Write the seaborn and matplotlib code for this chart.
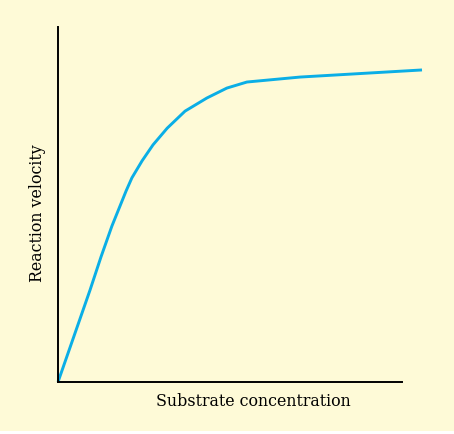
import numpy as np
import pandas as pd
import matplotlib
matplotlib.use("Agg")
import matplotlib.pyplot as plt
from matplotlib.patches import Rectangle
import seaborn as sns

# values (arbitrary units)
substrate = [0, 0.88, 1.18, 1.48, 1.87, 2.03, 2.31, 2.61, 3.00, 3.49,
             4.09, 4.64, 5.19, 6.65, 8.49, 10.0]
velocity = [0, 2.59, 3.52, 4.39, 5.38, 5.75, 6.23, 6.68, 7.15, 7.63,
            8.00, 8.28, 8.45, 8.59, 8.70, 8.79]

x_label = "Substrate concentration"
y_label = "Reaction velocity"

bg = "#fefad7"
curve_color = "#0aaee6"

sns.set_style("white")
plt.rcParams['font.family'] = ['DejaVu Serif']

W, H = 454, 434
fig = plt.figure(figsize=(W / 100, H / 100), dpi=100, facecolor=bg)
# thin white strip along the bottom edge
fig.patches.append(Rectangle((0, 0), 1, 3 / H, transform=fig.transFigure,
                             facecolor="white", edgecolor="none"))

ax = fig.add_axes([58 / W, (H - 382) / H, (422 - 58) / W, (382 - 27) / H])
ax.set_facecolor("none")

df = pd.DataFrame({"substrate": substrate, "velocity": velocity})
sns.lineplot(data=df, x="substrate", y="velocity", ax=ax, color=curve_color,
             linewidth=2.1, sort=False, clip_on=False,
             solid_joinstyle="round", solid_capstyle="butt")

ax.set_xlim(0, 10)
ax.set_ylim(0, 10)
ax.set_xticks([])
ax.set_yticks([])
for side in ["top", "right"]:
    ax.spines[side].set_visible(False)
for side in ["left", "bottom"]:
    ax.spines[side].set_color("black")
    ax.spines[side].set_linewidth(1.4)
ax.spines["bottom"].set_bounds(0, (402 - 58) / 36.4)

ax.set_xlabel("")
ax.set_ylabel("")
fig.text(253.5 / W, 1 - 401 / H, x_label, ha="center", va="center",
         fontsize=11.4, color="black")
fig.text(38 / W, 1 - 213 / H, y_label, ha="center", va="center", rotation=90,
         fontsize=11.4, color="black")

fig.savefig("out.png", dpi=100, facecolor=bg)
